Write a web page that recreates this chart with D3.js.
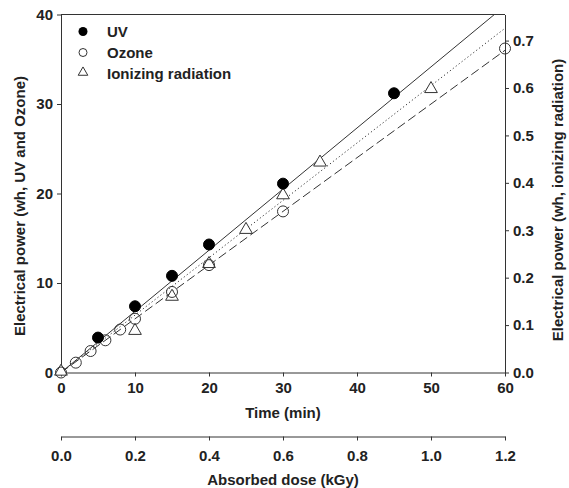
<!DOCTYPE html>
<html>
<head>
<meta charset="utf-8">
<script src="https://cdn.jsdelivr.net/npm/d3@7"></script>
<style>
  html, body { margin: 0; padding: 0; background: #fff; }
  svg text { font-family: "Liberation Sans", Arial, sans-serif; font-weight: bold; fill: #222; }
</style>
</head>
<body>
<svg id="chart" width="569" height="488"></svg>
<script>
// ---- data ----
const uvTime = [5, 10, 15, 20, 30, 45];
const uvPower = [3.9, 7.4, 10.8, 14.3, 21.1, 31.2];

const ozoneTime = [0, 2, 4, 6, 8, 10, 15, 20, 30, 60];
const ozonePower = [0, 1.1, 2.4, 3.6, 4.8, 6.0, 9.0, 12.0, 18.0, 36.2];

const ionDose = [0, 0.2, 0.3, 0.4, 0.5, 0.6, 0.7, 1.0];
const ionPower = [0, 0.086, 0.158, 0.227, 0.299, 0.372, 0.441, 0.596];

// linear fits [slope, intercept]
const uvFit = [0.683, 0];        // per min, left axis
const ozoneFit = [0.6, 0];       // per min, left axis
const ionFit = [0.605, 0];       // per kGy, right axis

const timeTicks = [0, 10, 20, 30, 40, 50, 60];
const doseTicks = [0, 0.2, 0.4, 0.6, 0.8, 1.0, 1.2];
const leftTicks = [0, 10, 20, 30, 40];
const rightTicks = [0, 0.1, 0.2, 0.3, 0.4, 0.5, 0.6, 0.7];

const legendLabels = ["UV", "Ozone", "Ionizing radiation"];

// ---- layout ----
const L = 61, R = 505, T = 14.5, B = 372.5;
const svg = d3.select("#chart");
const ink = "#333";

const x = d3.scaleLinear().domain([0, 60]).range([L, R]);
const xd = d3.scaleLinear().domain([0, 1.2]).range([L, R]);
const yl = d3.scaleLinear().domain([0, 40]).range([B, T]);
const yr = d3.scaleLinear().domain([0, 0.755]).range([B, T]);

function styleAxis(g) {
  g.selectAll("path").attr("stroke", ink).attr("stroke-width", 1);
  g.selectAll("line").attr("stroke", ink).attr("stroke-width", 1);
  g.selectAll("text").attr("font-size", 15).attr("fill", "#222")
    .attr("font-family", "Liberation Sans, Arial, sans-serif").attr("font-weight", "bold");
}

// top border
svg.append("line").attr("x1", L).attr("x2", R).attr("y1", T).attr("y2", T)
  .attr("stroke", ink).attr("stroke-width", 1);

svg.append("g").attr("transform", `translate(${L},0)`)
  .call(d3.axisLeft(yl).tickValues(leftTicks).tickFormat(d3.format("d")).tickSize(4).tickSizeOuter(0).tickPadding(4))
  .call(styleAxis);

svg.append("g").attr("transform", `translate(${R},0)`)
  .call(d3.axisRight(yr).tickValues(rightTicks).tickFormat(d3.format(".1f")).tickSize(4).tickSizeOuter(0).tickPadding(4))
  .call(styleAxis);

svg.append("g").attr("transform", `translate(0,${B})`)
  .call(d3.axisBottom(x).tickValues(timeTicks).tickFormat(d3.format("d")).tickSize(4).tickSizeOuter(0).tickPadding(6))
  .call(styleAxis);

svg.append("g").attr("transform", `translate(0,436.5)`)
  .call(d3.axisBottom(xd).tickValues(doseTicks).tickFormat(d3.format(".1f")).tickSize(4).tickSizeOuter(0).tickPadding(10))
  .call(styleAxis);

// axis titles
svg.append("text").attr("x", (L + R) / 2).attr("y", 418).attr("text-anchor", "middle")
  .attr("font-size", 15).text("Time (min)");
svg.append("text").attr("x", (L + R) / 2).attr("y", 485).attr("text-anchor", "middle")
  .attr("font-size", 15).text("Absorbed dose (kGy)");
svg.append("text").attr("transform", "translate(25,206) rotate(-90)").attr("text-anchor", "middle")
  .attr("font-size", 15).text("Electrical power (wh, UV and Ozone)");
svg.append("text").attr("transform", "translate(563,200) rotate(-90)").attr("text-anchor", "middle")
  .attr("font-size", 15).text("Electrical power (wh, ionizing radiation)");

// clip
svg.append("clipPath").attr("id", "plotclip").append("rect")
  .attr("x", L).attr("y", T).attr("width", R - L).attr("height", B - T);
const plot = svg.append("g").attr("clip-path", "url(#plotclip)");

// fit lines
const line = d3.line();
plot.append("path")
  .attr("d", line([[x(0), yl(uvFit[1])], [x(60), yl(uvFit[0] * 60 + uvFit[1])]]))
  .attr("fill", "none").attr("stroke", ink).attr("stroke-width", 1);
plot.append("path")
  .attr("d", line([[x(0), yl(ozoneFit[1])], [x(60), yl(ozoneFit[0] * 60 + ozoneFit[1])]]))
  .attr("fill", "none").attr("stroke", ink).attr("stroke-width", 1).attr("stroke-dasharray", "9,4");
plot.append("path")
  .attr("d", line([[xd(0), yr(ionFit[1])], [xd(1.2), yr(ionFit[0] * 1.2 + ionFit[1])]]))
  .attr("fill", "none").attr("stroke", ink).attr("stroke-width", 1).attr("stroke-dasharray", "1.2,2.5");

const pts = svg.append("g");
const tri = d3.symbol().type(d3.symbolTriangle).size(70);

// ionizing (triangles)
pts.selectAll(".ion").data(ionDose.map((d, i) => [d, ionPower[i]])).join("path")
  .attr("transform", d => `translate(${xd(d[0])},${yr(d[1]) - 1})`)
  .attr("d", tri).attr("fill", "#fff").attr("stroke", ink).attr("stroke-width", 1);

// ozone (open circles)
pts.selectAll(".oz").data(ozoneTime.map((d, i) => [d, ozonePower[i]])).join("circle")
  .attr("cx", d => x(d[0])).attr("cy", d => yl(d[1])).attr("r", 5.5)
  .attr("fill", "none").attr("stroke", ink).attr("stroke-width", 1);

// UV (filled circles)
pts.selectAll(".uv").data(uvTime.map((d, i) => [d, uvPower[i]])).join("circle")
  .attr("cx", d => x(d[0])).attr("cy", d => yl(d[1])).attr("r", 5.5)
  .attr("fill", "#000").attr("stroke", "#000");

// legend
const lg = svg.append("g");
const rows = [31.5, 52.5, 73];
lg.append("circle").attr("cx", 83).attr("cy", rows[0]).attr("r", 4.5).attr("fill", "#000");
lg.append("circle").attr("cx", 83).attr("cy", rows[1]).attr("r", 4).attr("fill", "none").attr("stroke", ink);
lg.append("path").attr("transform", `translate(83,${rows[2] - 0.5})`)
  .attr("d", d3.symbol().type(d3.symbolTriangle).size(40)).attr("fill", "none").attr("stroke", ink);
legendLabels.forEach((t, i) => {
  lg.append("text").attr("x", 107).attr("y", rows[i] + 5.5).attr("font-size", 15).text(t);
});
</script>
</body>
</html>
